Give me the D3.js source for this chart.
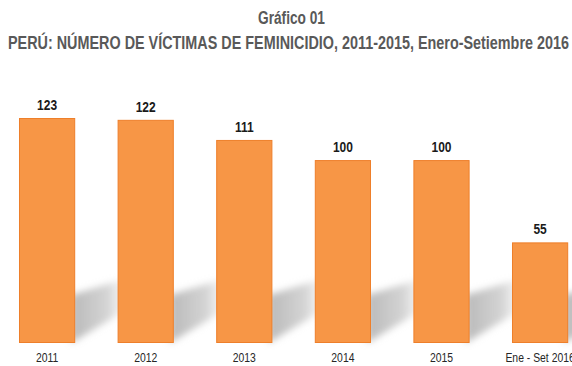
<!DOCTYPE html>
<html>
<head>
<meta charset="utf-8">
<script src="https://cdn.jsdelivr.net/npm/d3@7/dist/d3.min.js"></script>
<style>
  html, body { margin: 0; padding: 0; background: #fff; }
  svg { display: block; }
  text { font-family: "Liberation Sans", Arial, sans-serif; }
</style>
</head>
<body>
<svg id="chart" width="572" height="366"></svg>
<script>
const categories = ["2011", "2012", "2013", "2014", "2015", "Ene - Set 2016"];
const victims = [123, 122, 111, 100, 100, 55];
const titleLines = ["Gráfico 01", "PERÚ: NÚMERO DE VÍCTIMAS DE FEMINICIDIO, 2011-2015, Enero-Setiembre 2016"];

const W = 572, H = 366;
const baseY = 343;
const narrow = 0.8; // horizontal squeeze for a condensed look
const svg = d3.select("#chart");

const x = d3.scaleBand()
  .domain(categories)
  .range([-2.2, 589.4])
  .paddingInner(0.43)
  .paddingOuter(0.215);

const y = d3.scaleLinear()
  .domain([0, 123])
  .range([baseY, 118]);

const defs = svg.append("defs");
defs.append("filter")
  .attr("id", "soft")
  .attr("x", "-30%").attr("y", "-30%")
  .attr("width", "160%").attr("height", "160%")
  .append("feGaussianBlur").attr("stdDeviation", 3.5);

const grad = defs.append("linearGradient")
  .attr("id", "shadeFade")
  .attr("x1", "0").attr("y1", "0").attr("x2", "1").attr("y2", "0");
grad.append("stop").attr("offset", "0").attr("stop-color", "#b5b5b5").attr("stop-opacity", 0.95);
grad.append("stop").attr("offset", "0.6").attr("stop-color", "#c5c5c5").attr("stop-opacity", 0.75);
grad.append("stop").attr("offset", "1").attr("stop-color", "#dddddd").attr("stop-opacity", 0);

// floor shadows cast up and to the right of each bar
svg.append("g")
  .selectAll("path")
  .data(categories)
  .join("path")
  .attr("fill", "url(#shadeFade)")
  .attr("filter", "url(#soft)")
  .attr("d", c => {
    const r = x(c) + x.bandwidth();
    return `M${r - 4},${baseY} L${r - 4},${baseY - 48} L${r + 56},${baseY - 66} L${r + 56},${baseY - 36} Z`;
  });

// bars
svg.append("g")
  .selectAll("rect")
  .data(victims)
  .join("rect")
  .attr("x", (d, i) => x(categories[i]) + 0.5)
  .attr("y", d => y(d) + 0.5)
  .attr("width", x.bandwidth() - 1)
  .attr("height", d => baseY - y(d) - 1)
  .attr("fill", "#F79646")
  .attr("stroke", "#EE7F2A")
  .attr("stroke-width", 1);

// value labels
svg.append("g")
  .selectAll("text")
  .data(victims)
  .join("text")
  .attr("transform", (d, i) =>
    `translate(${x(categories[i]) + x.bandwidth() / 2},${y(d) - 8}) scale(${narrow},1)`)
  .attr("text-anchor", "middle")
  .attr("font-size", 15)
  .attr("font-weight", "bold")
  .attr("fill", "#1a1a1a")
  .text(d => d);

// category axis
const axis = svg.append("g")
  .attr("transform", `translate(0,${baseY})`)
  .call(d3.axisBottom(x).tickSize(0).tickPadding(0));
axis.select(".domain").remove();
axis.selectAll("text")
  .attr("y", 0)
  .attr("dy", 0)
  .attr("transform", `translate(0,19) scale(${narrow},1)`)
  .attr("font-size", 13)
  .attr("fill", "#262626");

// title
svg.append("text")
  .attr("x", 291.5).attr("y", 24)
  .attr("text-anchor", "middle")
  .attr("font-size", 17.5)
  .attr("font-weight", "bold")
  .attr("fill", "#595959")
  .attr("textLength", 67)
  .attr("lengthAdjust", "spacingAndGlyphs")
  .text(titleLines[0]);
svg.append("text")
  .attr("x", 8).attr("y", 49)
  .attr("font-size", 17.5)
  .attr("font-weight", "bold")
  .attr("fill", "#595959")
  .attr("textLength", 561)
  .attr("lengthAdjust", "spacingAndGlyphs")
  .text(titleLines[1]);
</script>
</body>
</html>
